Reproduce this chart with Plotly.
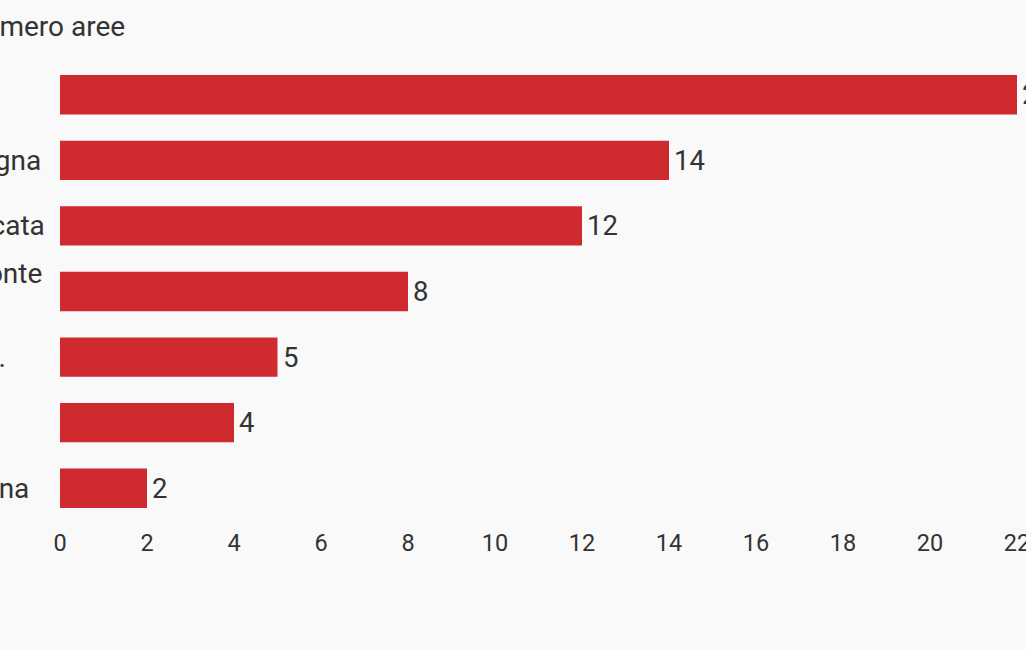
import plotly.graph_objects as go

categories = ["Lazio", "Sardegna", "Basilicata", "Piemonte<br>VdA", "F.-V. G.", "Sicilia", "Toscana"]
values = [22, 14, 12, 8, 5, 4, 2]
tick_vals = [0, 2, 4, 6, 8, 10, 12, 14, 16, 18, 20, 22]
title_text = "Numero aree"

W, H = 1026, 650
ML, MR, MT, MB = 60, 9, 62, 129
PW = W - ML - MR
PH = H - MT - MB
LABEL_PX = -79
TITLE_PX = -38
FONT = "Roboto"
TXT = "#333333"
BAR = "#cf2a30"
BG = "#f9f9f9"

fig = go.Figure(go.Bar(
    x=values, y=categories, orientation="h",
    marker=dict(color=BAR, line=dict(width=0)),
    hoverinfo="skip",
))

annotations = [dict(
    text=c, x=(LABEL_PX - ML) / PW, xref="paper", y=c, yref="y",
    xanchor="left", yanchor="middle", align="left", showarrow=False,
    font=dict(family=FONT, size=28, color=TXT),
) for c in categories]
annotations += [dict(
    text=str(v), x=v, xref="x", y=c, yref="y", xshift=3,
    xanchor="left", yanchor="middle", showarrow=False,
    font=dict(family=FONT, size=27.5, color=TXT),
) for c, v in zip(categories, values)]
annotations.append(dict(
    text=title_text, x=(TITLE_PX - ML) / PW, xref="paper",
    y=1 + (MT - 27) / PH, yref="paper",
    xanchor="left", yanchor="middle", showarrow=False,
    font=dict(family=FONT, size=28, color=TXT),
))

fig.update_layout(
    width=W, height=H,
    margin=dict(l=ML, r=MR, t=MT, b=MB, pad=0, autoexpand=False),
    paper_bgcolor=BG, plot_bgcolor=BG,
    bargap=0.4, showlegend=False,
    font=dict(family=FONT, color=TXT),
    xaxis=dict(range=[0, 22], tickvals=tick_vals, showgrid=False, zeroline=False,
               showline=False, ticks="", ticklabelstandoff=5, ticklabeloverflow="allow",
               automargin=False,
               tickfont=dict(family=FONT, size=23.5, color=TXT)),
    yaxis=dict(autorange="reversed", showticklabels=False, showgrid=False,
               zeroline=False, showline=False, ticks="", automargin=False),
    annotations=annotations,
)

fig.write_html(
    "out.html",
    config={"displayModeBar": False},
    post_script="document.body.style.margin='0';document.body.style.background='%s';" % BG,
)
